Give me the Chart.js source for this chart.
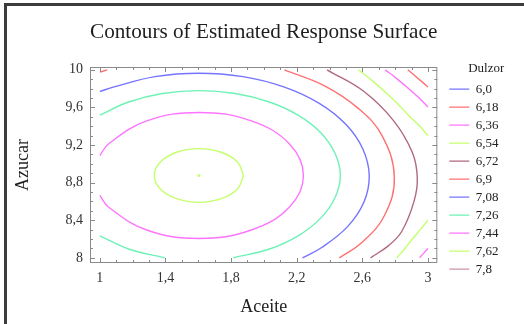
<!DOCTYPE html>
<html>
<head>
<meta charset="utf-8">
<script src="https://cdn.jsdelivr.net/npm/chart.js@4.4.1/dist/chart.umd.min.js"></script>
<style>
    html, body { margin: 0; padding: 0; background: #fff; }
    #wrap { width: 524px; height: 324px; position: relative; }
</style>
</head>
<body>
<div id="wrap"><canvas id="contourChart"></canvas></div>
<script>
// Contours of Estimated Response Surface - Dulzor vs Aceite / Azucar

const levels = ['6,0', '6,18', '6,36', '6,54', '6,72', '6,9', '7,08', '7,26', '7,44', '7,62', '7,8'];
const levelColors = ['#7474ff', '#ff7070', '#ff74ff', '#c4ff6c', '#b06a7c', '#ff7070',
                     '#7474ff', '#6cf2b6', '#ff74ff', '#c4ff6c', '#cc94a4'];

const xTicks = [1, 1.4, 1.8, 2.2, 2.6, 3];
const yTicks = [8, 8.4, 8.8, 9.2, 9.6, 10];

// contour segments per level, points as [Aceite, Azucar]
const c600 = [];
const c618 = [[[2.877, 10.0], [2.935, 9.915], [3.0, 9.818]]];
const c636 = [
    [[2.739, 10.0], [2.80, 9.92], [2.871, 9.817], [2.94, 9.71], [3.0, 9.605]],
    [[2.948, 8.0], [2.975, 8.05], [3.0, 8.1]]
];
const c654 = [
    [[2.576, 10.0], [2.66, 9.885], [2.739, 9.765], [2.815, 9.64], [2.881, 9.517], [2.945, 9.41], [3.0, 9.30]],
    [[2.81, 8.0], [2.86, 8.10], [2.905, 8.20], [2.953, 8.30], [3.0, 8.40]]
];
const c672 = [
    [[2.385, 10.0], [2.61, 9.77], [2.79, 9.46], [2.905, 9.12], [2.935, 8.85], [2.915, 8.6],
     [2.84, 8.28], [2.76, 8.13], [2.65, 8.0]]
];
const c690 = [
    [[2.125, 10.0], [2.37, 9.83], [2.575, 9.59], [2.72, 9.30], [2.795, 8.86], [2.735, 8.45],
     [2.595, 8.16], [2.46, 8.0]],
    [[1.0, 9.975], [1.045, 10.0]]
];
const c708 = [
    [[1.0, 9.77], [1.087, 9.818], [1.336, 9.927], [1.604, 9.964], [1.872, 9.927], [2.121, 9.818],
     [2.335, 9.645], [2.499, 9.420], [2.603, 9.158], [2.642, 8.876], [2.61, 8.594], [2.51, 8.332],
     [2.35, 8.107], [2.235, 8.0]]
];
const c726 = [
    [[1.0, 9.518], [1.175, 9.658], [1.382, 9.748], [1.604, 9.779], [1.826, 9.748], [2.034, 9.658],
     [2.211, 9.515], [2.348, 9.328], [2.434, 9.110], [2.466, 8.876], [2.434, 8.642], [2.348, 8.425],
     [2.211, 8.237], [2.034, 8.094], [1.812, 8.0]],
    [[1.0, 8.234], [1.175, 8.094], [1.396, 8.0]]
];
const c744 = [
    [[1.0, 9.088], [1.052, 9.211], [1.286, 9.456], [1.604, 9.546], [1.923, 9.456], [2.156, 9.211],
     [2.241, 8.876], [2.156, 8.541], [1.923, 8.296], [1.604, 8.206], [1.286, 8.296], [1.052, 8.541],
     [1.0, 8.664]]
];
const c762 = [
    [[1.876, 8.876], [1.839, 9.019], [1.740, 9.123], [1.604, 9.162], [1.468, 9.123], [1.369, 9.019],
     [1.332, 8.876], [1.369, 8.733], [1.468, 8.629], [1.604, 8.590], [1.740, 8.629], [1.839, 8.733],
     [1.876, 8.876]]
];
const c780 = [];
const contours = [c600, c618, c636, c654, c672, c690, c708, c726, c744, c762, c780];

// estimated maximum
const peak = [[1.604, 8.876]];

const serif = 'Liberation Serif';

document.addEventListener('DOMContentLoaded', function() {
    const ctx = document.getElementById('contourChart');
    createContourChart(ctx);
});

function commaLabel(v) {
    return String(v).replace('.', ',');
}

// frame round the plot with inward ticks on all four sides, plus the outer border
const framePlugin = {
    id: 'frame',
    afterDraw(chart) {
        const c = chart.ctx;
        const a = chart.chartArea;
        const xs = chart.scales.x;
        const ys = chart.scales.y;
        c.save();

        c.strokeStyle = '#3c3c3c';
        c.lineWidth = 3;
        c.beginPath();
        c.moveTo(5.5, chart.height);
        c.lineTo(5.5, 4.5);
        c.lineTo(chart.width, 4.5);
        c.stroke();

        c.strokeStyle = '#8a8a8a';
        c.lineWidth = 1;
        c.strokeRect(a.left + 0.5, a.top + 0.5, a.right - a.left - 1, a.bottom - a.top - 1);

        c.beginPath();
        for (let i = 0; i <= 20; i++) {
            const v = 1 + i * 0.1;
            const px = Math.round(xs.getPixelForValue(v)) + 0.5;
            const len = (i % 4 === 0) ? 5 : 3;
            c.moveTo(px, a.bottom); c.lineTo(px, a.bottom - len);
            c.moveTo(px, a.top); c.lineTo(px, a.top + len);
        }
        for (let i = 0; i <= 20; i++) {
            const v = 8 + i * 0.1;
            const py = Math.round(ys.getPixelForValue(v)) + 0.5;
            const len = (i % 4 === 0) ? 5 : 3;
            c.moveTo(a.left, py); c.lineTo(a.left + len, py);
            c.moveTo(a.right, py); c.lineTo(a.right - len, py);
        }
        c.stroke();
        c.restore();
    }
};

function createContourChart(ctx) {
    const datasets = [];
    contours.forEach(function(segments, i) {
        segments.forEach(function(seg) {
            datasets.push({
                label: levels[i],
                data: seg.map(p => ({x: p[0], y: p[1]})),
                showLine: true,
                borderColor: levelColors[i],
                backgroundColor: levelColors[i],
                borderWidth: 1.4,
                pointRadius: 0,
                tension: 0.4,
                fill: false
            });
        });
    });
    datasets.push({
        label: 'max',
        data: peak.map(p => ({x: p[0], y: p[1]})),
        pointRadius: 1.5,
        pointBorderWidth: 0,
        backgroundColor: levelColors[9]
    });

    new Chart(ctx, {
        type: 'scatter',
        data: { datasets: datasets },
        options: {
            responsive: true,
            maintainAspectRatio: false,
            animation: false,
            layout: {
                padding: { left: 0, right: 19.7, top: 0, bottom: 0 }
            },
            plugins: {
                title: {
                    display: true,
                    text: 'Contours of Estimated Response Surface',
                    fullSize: false,
                    color: '#1e1e1e',
                    font: { family: serif, size: 22, weight: 'normal' },
                    padding: { top: 19, bottom: 21.6 }
                },
                legend: {
                    position: 'right',
                    align: 'start',
                    maxWidth: 60,
                    title: {
                        display: true,
                        text: 'Dulzor',
                        position: 'end',
                        color: '#222',
                        font: { family: serif, size: 13 },
                        padding: { top: 62, bottom: 0 }
                    },
                    labels: {
                        usePointStyle: true,
                        pointStyle: 'line',
                        pointStyleWidth: 20,
                        padding: 5,
                        color: '#333',
                        font: { family: serif, size: 13 },
                        generateLabels: function() {
                            return levels.map((lv, i) => ({
                                text: lv,
                                strokeStyle: levelColors[i],
                                fillStyle: levelColors[i],
                                lineWidth: 1.3,
                                pointStyle: 'line',
                                hidden: false
                            }));
                        }
                    }
                },
                tooltip: { enabled: false }
            },
            scales: {
                x: {
                    type: 'linear',
                    position: 'bottom',
                    min: 0.94,
                    max: 3.057,
                    afterBuildTicks: function(s) {
                        s.ticks = xTicks.map(v => ({value: v}));
                    },
                    afterFit: function(s) {
                        s.height = 61;
                    },
                    ticks: {
                        callback: commaLabel,
                        color: '#333',
                        padding: 7,
                        maxRotation: 0,
                        font: { family: serif, size: 14 }
                    },
                    grid: { display: false, drawTicks: false },
                    border: { display: false },
                    title: {
                        display: true,
                        text: 'Aceite',
                        color: '#1e1e1e',
                        font: { family: serif, size: 18 },
                        padding: { top: 0, bottom: 6 }
                    }
                },
                y: {
                    type: 'linear',
                    position: 'left',
                    min: 7.945,
                    max: 10.03,
                    afterBuildTicks: function(s) {
                        s.ticks = yTicks.map(v => ({value: v}));
                    },
                    afterFit: function(s) {
                        s.width = 90;
                    },
                    ticks: {
                        callback: commaLabel,
                        color: '#333',
                        padding: 7,
                        font: { family: serif, size: 14 }
                    },
                    grid: { display: false, drawTicks: false },
                    border: { display: false },
                    title: {
                        display: true,
                        text: 'Azucar',
                        color: '#1e1e1e',
                        font: { family: serif, size: 18 },
                        padding: { top: 12, bottom: 0 }
                    }
                },
                // spacer between the plot frame and the legend
                yRight: {
                    type: 'linear',
                    position: 'right',
                    min: 7.945,
                    max: 10.03,
                    display: true,
                    afterFit: function(s) {
                        s.width = 7;
                    },
                    ticks: { display: false },
                    grid: { display: false, drawTicks: false },
                    border: { display: false }
                }
            }
        },
        plugins: [framePlugin]
    });
}
</script>
</body>
</html>
